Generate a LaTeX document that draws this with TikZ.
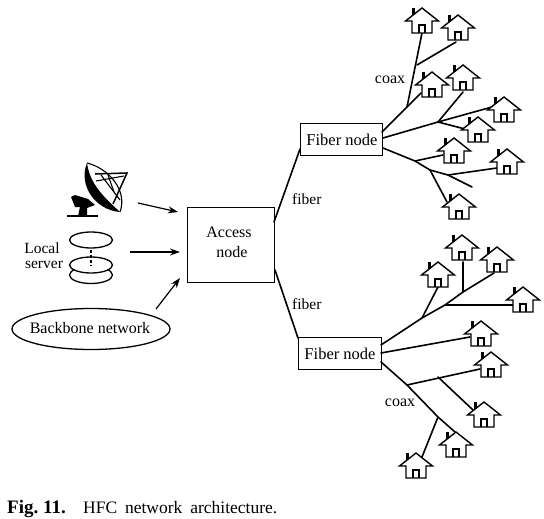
\documentclass[tikz,border=0pt]{standalone}
\usepackage{fontspec}
\setmainfont{Liberation Serif}
\usetikzlibrary{arrows.meta,shapes.geometric}
\tikzset{
  link/.style={line width=1.6pt,line cap=round},
  flow/.style={line width=1.2pt,-{Stealth[length=10pt,width=7pt]}},
  boxnode/.style={draw,line width=1.3pt,inner sep=0pt,anchor=north west,align=center},
  lab/.style={font=\fontsize{16}{18}\selectfont,inner sep=0pt},
  house/.pic={
    \draw[line width=1.4pt,fill=white,line join=miter] (-10,13) -- (-10,25) -- (10,25) -- (10,13) -- (16.5,13) -- (0,0) -- (-16.5,13) -- cycle;
    \draw[line width=1.2pt] (-3,25) -- (-3,17) -- (3,17) -- (3,25);
    \fill (-10.5,0) rectangle (-7.5,7);
  }
}
\begin{document}
\begin{tikzpicture}[x=1pt,y=-1pt]
\useasboundingbox (0,0) rectangle (544,519);
% boxes
\node[boxnode,minimum width=87pt,minimum height=75pt] (access) at (187,206.5) {};
\node[lab] (accesst) at (229,232) {Access};
\node[lab] (accessn) at (232,252) {node};
\node[boxnode,minimum width=82pt,minimum height=32pt] (fn1) at (300,123) {};
\node[lab,font=\fontsize{16.5}{18}\selectfont] at (342,140) {Fiber node};
\node[boxnode,minimum width=83pt,minimum height=32pt] (fn2) at (298,337) {};
\node[lab,font=\fontsize{16.5}{18}\selectfont] at (340,354) {Fiber node};
% fiber links
\coordinate (a1) at (274,222);
\coordinate (a2) at (275,270);
\coordinate (f1) at (300,149);
\coordinate (f2) at (298,338);
\draw[link] (a1) -- (f1);
\draw[link] (a2) -- (f2);
\node[lab,anchor=west,font=\fontsize{15.5}{18}\selectfont] (fl1) at (292,199) {fiber};
\node[lab,anchor=west,font=\fontsize{15.5}{18}\selectfont] (fl2) at (292,304) {fiber};
\node[lab] (cx1) at (390,80) {coax};
\node[lab] (cx2) at (400,403) {coax};
% upper tree
\coordinate (p1) at (382,132);
\coordinate (p2) at (383,138);
\coordinate (p3) at (383,148);
\coordinate (j1) at (407,107);
\coordinate (j2) at (417,65);
\coordinate (j3) at (438,122);
\coordinate (j4) at (415,161);
\coordinate (j5) at (430,170);
\coordinate (j6) at (448,175);
\coordinate (e1) at (472,187);
\draw[link] (p1) -- (j1) -- (421,93);
\draw[link] (j1) -- (422,33);
\draw[link] (j2) -- (456,42);
\draw[link] (p2) -- (j3) -- (463,92);
\draw[link] (j3) -- (492,107);
\draw[link] (j3) -- (465,129);
\draw[link] (p3) -- (j4) -- (j5) -- (j6) -- (e1);
\draw[link] (j4) -- (443,155);
\draw[link] (j5) -- (447,202);
\draw[link] (j6) -- (497,168);
% lower tree
\coordinate (q1) at (381,345);
\coordinate (q2) at (381,353);
\coordinate (q3) at (381,362);
\coordinate (k1) at (422,318);
\coordinate (k2) at (445,305);
\coordinate (k3) at (463,292);
\coordinate (k4) at (407,385);
\coordinate (k5) at (438,417);
\coordinate (k6) at (438,377);
\coordinate (k7) at (422,457);
\draw[link] (q1) -- (k1) -- (k2) -- (k3) -- (494,273);
\draw[link] (k1) -- (438,287);
\draw[link] (k3) -- (463,262);
\draw[link] (k2) -- (513,305);
\draw[link] (q2) -- (470,337);
\draw[link] (q3) -- (k4) -- (k5) -- (455,432);
\draw[link] (k4) -- (480,369);
\draw[link] (k6) -- (473,410);
\draw[link] (k5) -- (k7);
% houses
\pic at (422,8) {house};
\pic at (458,15) {house};
\pic at (432,72) {house};
\pic at (463,65) {house};
\pic at (504,97) {house};
\pic at (478,117) {house};
\pic at (454,138) {house};
\pic at (507,149) {house};
\pic at (459,194) {house};
\pic at (462,235) {house};
\pic at (497,247) {house};
\pic at (438,262) {house};
\pic at (523,287) {house};
\pic at (481,321) {house};
\pic at (491,352) {house};
\pic at (484,402) {house};
\pic at (456,432) {house};
\pic at (416,453) {house};
% dish
\fill (71,197) -- (75,195) -- (88,199) -- (95,205) -- (87,208) -- (87,216) -- (78,216) -- (80,207) -- (75,207) -- cycle;
\fill (87,163) .. controls (78,185) and (95,210) .. (120,212) .. controls (105,198) and (90,185) .. cycle;
\draw[line width=1.1pt] (87,163) .. controls (108,168) and (128,190) .. (120,212);
\draw[line width=1.5pt] (95,174) -- (127,173) -- (113,204);
\draw[line width=1.1pt] (96,181) -- (124,176);
\draw[line width=1.1pt] (101,175) -- (120,200);
\draw[line width=1.1pt] (108,175) -- (114,192);
\draw[line width=2.4pt] (67,216) -- (98,216);
% disks
\draw[line width=1.3pt] (91,275) ellipse[x radius=21.5,y radius=8.5];
\draw[line width=1.3pt,fill=white] (91,265) ellipse[x radius=21.5,y radius=8];
\draw[line width=1.3pt,fill=white] (91,240) ellipse[x radius=21.5,y radius=8];
\draw[line width=2.2pt,dash pattern=on 2.5pt off 2.5pt] (91,250) -- (91,266);
\node[lab,font=\fontsize{15.5}{18}\selectfont] at (42,248) {Local};
\node[lab,font=\fontsize{15.5}{18}\selectfont] at (44,265) {server};
% backbone
\node[draw,line width=1.3pt,ellipse,minimum width=158pt,minimum height=41pt,inner sep=0pt] (bb) at (91,329) {};
\node[lab] at (90,328) {Backbone network};
% arrows
\coordinate (s1) at (138,203);
\coordinate (s2) at (130,252);
\coordinate (s3) at (156,309);
\coordinate (t1) at (178,212);
\coordinate (t2) at (180,252);
\coordinate (t3) at (180,278);
\draw[flow] (s1) -- (t1);
\draw[flow] (s2) -- (t2);
\draw[flow] (s3) -- (t3);
% caption
\node[anchor=base west,inner sep=0pt,font=\fontsize{19}{20}\selectfont] (cap) at (7,513) {\textbf{Fig.~11.}};
\node[anchor=base west,inner sep=0pt,font=\fontsize{17.5}{20}\selectfont] (capt) at (83,513) {HFC\hspace{3.5pt} network\hspace{3.5pt} architecture.};
\end{tikzpicture}
\end{document}
